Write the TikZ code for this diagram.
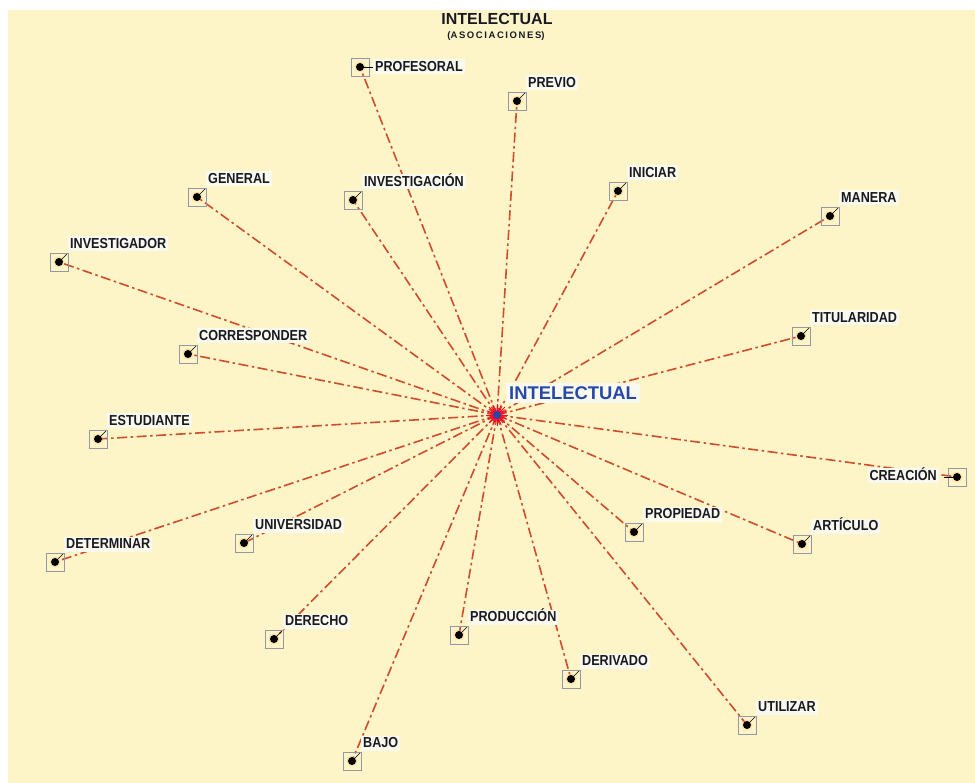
\documentclass[tikz,border=0pt]{standalone}
\usepackage{fontspec}
\setmainfont{Liberation Sans}
\newfontfamily\lblfont{Liberation Sans}[FakeStretch=0.87]
\newfontfamily\ttlfont{Liberation Sans}
\definecolor{bgyel}{RGB}{253,245,200}
\definecolor{lnred}{RGB}{208,76,44}
\definecolor{ctrblue}{RGB}{38,72,168}
\definecolor{lblbg}{RGB}{250,249,238}
\definecolor{lbltext}{RGB}{25,25,35}
\definecolor{boxgray}{RGB}{150,150,165}
\pgfdeclarelayer{bglayer}
\pgfdeclarelayer{linelayer}
\pgfsetlayers{bglayer,linelayer,main}
\tikzset{
  mkbox/.style={draw=boxgray, line width=0.8pt, minimum size=18pt, inner sep=0pt, rectangle},
  lbl/.style={fill=lblbg, text=lbltext, font=\lblfont\bfseries\fontsize{14.5}{16}\selectfont,
    inner xsep=2pt, inner ysep=1.5pt, text height=10.5pt, text depth=1.5pt},
  conn/.style={draw=lnred, line width=1.6pt, dash pattern=on 10pt off 3.5pt on 2.5pt off 3.5pt},
  ptr/.style={draw=black, line width=0.6pt},
  halo/.style={fill=orange!60, opacity=0.3},
}
\newcommand\mk[4]{%
  \node[mkbox] (#1) at (#2,#3) {};
  \fill[halo] (#1.center) circle (5.5);
  \fill[black] (#1.center) circle (4);
  \draw[ptr] (#1.center) -- ++(8,-8);
  \node[lbl, anchor=west] (#1-l) at ({#2+9},{#3-18}) {#4};
  \begin{pgfonlayer}{linelayer}\draw[conn] (ctr.center) -- (#1.center);\end{pgfonlayer}
}
\begin{document}
\begin{tikzpicture}[x=1pt,y=-1pt]
\useasboundingbox (0,0) rectangle (975,783);
\begin{pgfonlayer}{bglayer}
\fill[white] (0,0) rectangle (975,783);
\fill[bgyel] (8,10) rectangle (975,783);
\end{pgfonlayer}
\coordinate (ctr) at (497,415);
% title
\node[font=\ttlfont\bfseries\fontsize{16}{18}\selectfont, text=lbltext] (title) at (497,19) {INTELECTUAL};
\node[font=\ttlfont\bfseries\fontsize{9.5}{11}\selectfont, text=lbltext] (sub) at (496,36) {(A\,S\,O\,C\,I\,A\,C\,I\,O\,N\,E\,S)};
% markers
\node[mkbox] (profesoral) at (360,67) {};
\fill[halo] (profesoral.center) circle (5.5);
\fill[black] (profesoral.center) circle (4);
\draw[ptr] (profesoral.center) -- ++(14,0);
\node[lbl, anchor=west] (profesoral-l) at (373,67) {PROFESORAL};
\begin{pgfonlayer}{linelayer}\draw[conn] (ctr.center) -- (profesoral.center);\end{pgfonlayer}
\mk{previo}{517}{101}{PREVIO}
\mk{investigacion}{353}{200}{INVESTIGACIÓN}
\mk{general}{197}{197}{GENERAL}
\mk{iniciar}{618}{191}{INICIAR}
\mk{manera}{830}{216}{MANERA}
\mk{investigador}{59}{262}{INVESTIGADOR}
\mk{corresponder}{188}{354}{CORRESPONDER}
\mk{titularidad}{801}{336}{TITULARIDAD}
\mk{estudiante}{98}{439}{ESTUDIANTE}
\mk{determinar}{55}{562}{DETERMINAR}
\mk{universidad}{244}{543}{UNIVERSIDAD}
\mk{propiedad}{634}{532}{PROPIEDAD}
\mk{articulo}{802}{544}{ARTÍCULO}
\mk{derecho}{274}{639}{DERECHO}
\mk{produccion}{459}{635}{PRODUCCIÓN}
\mk{derivado}{571}{679}{DERIVADO}
\mk{utilizar}{747}{725}{UTILIZAR}
\mk{bajo}{352}{761}{BAJO}
\node[mkbox] (creacion) at (957,477) {};
\fill[halo] (creacion.center) circle (5.5);
\fill[black] (creacion.center) circle (4);
\draw[ptr] (creacion.center) -- ++(-13,0);
\node[lbl, anchor=east] (creacion-l) at (939,476) {CREACIÓN};
\begin{pgfonlayer}{linelayer}\draw[conn] (ctr.center) -- (creacion.center);\end{pgfonlayer}
% centre
\foreach \a in {0,22.5,...,337.5} \draw[red!85!magenta, line width=0.8pt] (ctr) -- ++(\a:11);
\foreach \a in {11.25,33.75,...,348.75} \draw[red!85!magenta, line width=0.8pt] (ctr) -- ++(\a:7);
\fill[ctrblue] (ctr) circle (4);
\node[fill=lblbg, text=ctrblue, font=\ttlfont\bfseries\fontsize{18.4}{20}\selectfont,
  anchor=west, inner xsep=3pt, inner ysep=3pt, text height=13.5pt, text depth=1pt] (ctr-l) at (506,393) {INTELECTUAL};
\end{tikzpicture}
\end{document}
